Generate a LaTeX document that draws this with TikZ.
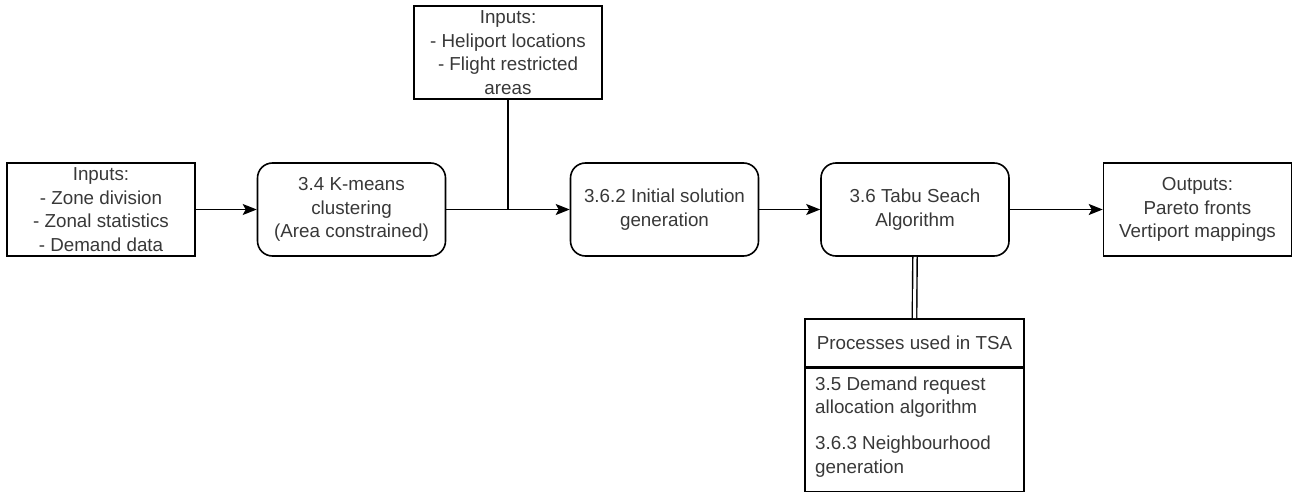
\documentclass[tikz,border=0pt]{standalone}
\usepackage{fontspec}
\setmainfont{Liberation Sans}
\usetikzlibrary{arrows.meta}
\begin{document}
\begin{tikzpicture}[x=1pt,y=-1pt,
  every node/.style={font=\fontsize{18.8}{23.5}\selectfont, text=black!78, inner sep=0pt},
  databox/.style={draw=black, line width=1.6pt, minimum width=188pt, minimum height=93pt, align=center},
  procbox/.style={databox, rounded corners=15pt},
  flow/.style={draw=black, line width=1.6pt, -{Stealth[length=14pt,width=11pt,inset=3pt]}},
  link/.style={draw=black, line width=1.6pt},
  itemtext/.style={anchor=west, align=left}
]
\useasboundingbox (0,0) rectangle (1308,492);

% main chain
\node[databox] (inA) at (101,209.5) {Inputs:\\- Zone division\\- Zonal statistics\\- Demand data};
\node[procbox] (km) at (351.5,209.5) {3.4 K-means\\clustering\\(Area constrained)};
\node[databox] (inB) at (508,52.5) {Inputs:\\- Heliport locations\\- Flight restricted\\areas};
\node[procbox] (init) at (664.5,209.5) {3.6.2 Initial solution\\generation};
\node[procbox] (tabu) at (915,209.5) {3.6 Tabu Seach\\Algorithm};
\node[databox] (out) at (1197.5,209.5) {Outputs:\\Pareto fronts\\Vertiport mappings};

% list of sub-processes
\node[databox, minimum width=219pt, minimum height=48pt] (phead) at (914.5,343) {Processes used in TSA};
\node[draw=black, line width=1.6pt, minimum width=219pt, minimum height=123pt, anchor=north] (pbody) at (phead.south) {};
\node[itemtext] (p1) at (815,397) {3.5 Demand request\\allocation algorithm};
\node[itemtext] (p2) at (815,456.5) {3.6.3 Neighbourhood\\generation};

% connectors
\draw[flow] (inA) -- (km);
\draw[flow] (km) -- (init);
\coordinate (join) at (inB.south |- km.east);
\draw[link] (inB.south) -- (join);
\draw[flow] (init) -- (tabu);
\draw[flow] (tabu) -- (out);
\draw[line width=1.4pt, double, double distance=3pt] (tabu.south) -- (phead.north);
\end{tikzpicture}
\end{document}
